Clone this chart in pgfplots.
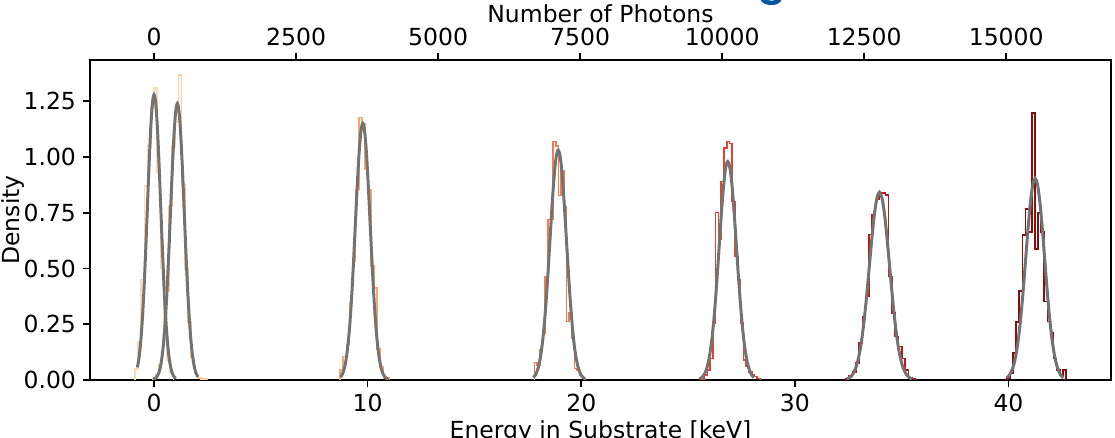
\documentclass[border=0pt]{standalone}
\usepackage{fontspec}
\setmainfont{DejaVu Sans}
\usepackage{pgfplots}
\pgfplotsset{compat=1.18}
\definecolor{hA}{HTML}{FDD8B0}
\definecolor{hB}{HTML}{FDCD9C}
\definecolor{hC}{HTML}{FCA46A}
\definecolor{hD}{HTML}{F57A50}
\definecolor{hE}{HTML}{E4432C}
\definecolor{hF}{HTML}{C41414}
\definecolor{hG}{HTML}{8B0C0C}
\definecolor{fitc}{RGB}{115,115,115}
\definecolor{logob}{RGB}{0,84,159}
\pgfplotsset{
  hist/.style={const plot mark left, no markers, line width=0.8pt},
  fit/.style={smooth, no markers, color=fitc, line width=1.5pt},
  every tick label/.append style={font=\fontsize{11.75}{14}\selectfont},
  every axis label/.append style={font=\fontsize{11.75}{14}\selectfont},
}
\begin{document}
\begin{tikzpicture}
\useasboundingbox (-45pt,-29pt) rectangle (512.5pt,190pt);
\clip (-45pt,-29pt) rectangle (512.5pt,190pt);
\draw[line width=2.2pt, color=logob, line cap=round] (336pt,191pt) to[out=-70,in=180] (341pt,188.6pt) to[out=0,in=-110] (345pt,191pt);
\begin{axis}[
  at={(0,0)}, anchor=south west,
  scale only axis, width=510.5pt, height=160pt,
  xmin=-3, xmax=44.8, ymin=0, ymax=1.435,
  xtick={0,10,20,30,40}, xticklabels={0,10,20,30,40},
  ytick={0,0.25,0.5,0.75,1,1.25},
  yticklabels={0.00,0.25,0.50,0.75,1.00,1.25},
  xtick pos=left, ytick pos=left,
  tick align=outside, major tick length=3.5pt,
  tick style={black, line width=0.8pt},
  axis line style={black, line width=0.9pt},
  xlabel={Energy in Substrate [keV]},
  ylabel={Density},
  xlabel style={yshift=2.5pt},
  ylabel style={yshift=-7.5pt},
]
% peak 1
\addplot[hist, color=hA] coordinates {(-0.90,0) (-0.90,0.05) (-0.75,0.17) (-0.60,0.45) (-0.45,0.87) (-0.30,1.05) (-0.15,1.22) (0.00,1.31) (0.15,0.93) (0.30,0.50) (0.45,0.22) (0.60,0.09) (0.75,0.03) (0.90,0.03) (0.90,0)};
\addplot[fit] coordinates {(-0.780,0.0562) (-0.702,0.1019) (-0.624,0.1732) (-0.546,0.2769) (-0.468,0.4156) (-0.390,0.5860) (-0.312,0.7763) (-0.234,0.9661) (-0.156,1.1296) (-0.078,1.2406) (0,1.28) (0.078,1.2406) (0.156,1.1296) (0.234,0.9661) (0.312,0.7763) (0.390,0.5860) (0.468,0.4156) (0.546,0.2769) (0.624,0.1732) (0.702,0.1019) (0.780,0.0562) (0.858,0.0292) (0.936,0.0142) (1.014,0.0065)};
% peak 2
\addplot[hist, color=hB] coordinates {(-0.06,0) (-0.06,0.01) (0.09,0.025) (0.24,0.07) (0.39,0.19) (0.54,0.40) (0.69,0.78) (0.84,1.05) (0.99,1.16) (1.14,1.368) (1.29,0.875) (1.44,0.50) (1.59,0.26) (1.74,0.10) (1.89,0.03) (2.04,0.01) (2.19,0.005) (2.34,0.005) (2.49,0.005) (2.49,0)};
\addplot[fit] coordinates {(-0.037,0.0027) (0.044,0.0063) (0.124,0.0138) (0.205,0.0283) (0.285,0.0544) (0.366,0.0987) (0.446,0.1678) (0.527,0.2682) (0.607,0.4026) (0.688,0.5677) (0.768,0.7521) (0.849,0.9360) (0.929,1.0943) (1.010,1.2018) (1.090,1.24) (1.171,1.2018) (1.251,1.0943) (1.332,0.9360) (1.412,0.7521) (1.493,0.5677) (1.573,0.4026) (1.654,0.2682) (1.734,0.1678) (1.815,0.0987) (1.895,0.0544) (1.976,0.0283) (2.056,0.0138)};
% peak 3
\addplot[hist, color=hC] coordinates {(8.710,0) (8.710,0.045) (8.855,0.105) (9.000,0.16) (9.145,0.346) (9.290,0.532) (9.435,0.854) (9.580,1.177) (9.725,1.15) (9.870,0.944) (10.015,0.854) (10.160,0.51) (10.305,0.413) (10.450,0.14) (10.595,0.06) (10.740,0.01) (10.885,0.01) (11.030,0.01) (11.030,0)};
\addplot[fit] coordinates {(8.729,0.0128) (8.816,0.0262) (8.903,0.0505) (8.989,0.0916) (9.076,0.1557) (9.163,0.2490) (9.250,0.3737) (9.336,0.5269) (9.423,0.6981) (9.510,0.8688) (9.597,1.0158) (9.683,1.1155) (9.770,1.151) (9.857,1.1155) (9.944,1.0158) (10.030,0.8688) (10.117,0.6981) (10.204,0.5269) (10.291,0.3737) (10.377,0.2490) (10.464,0.1557) (10.551,0.0916) (10.638,0.0505) (10.724,0.0262) (10.811,0.0128) (10.898,0.0059) (10.985,0.0025)};
% peak 4
\addplot[hist, color=hD] coordinates {(17.810,0) (17.810,0.078) (17.935,0.067) (18.060,0.135) (18.185,0.21) (18.310,0.465) (18.435,0.72) (18.560,0.72) (18.685,1.07) (18.810,1.05) (18.935,0.827) (19.060,0.937) (19.185,0.776) (19.310,0.262) (19.435,0.30) (19.560,0.187) (19.685,0.052) (19.810,0.042) (19.935,0.02) (20.060,0.007) (20.185,0.007) (20.185,0)};
\addplot[fit] coordinates {(17.759,0.0114) (17.856,0.0235) (17.953,0.0453) (18.049,0.0821) (18.146,0.1395) (18.243,0.2230) (18.340,0.3348) (18.436,0.4720) (18.533,0.6253) (18.630,0.7782) (18.727,0.9099) (18.823,0.9992) (18.920,1.031) (19.017,0.9992) (19.114,0.9099) (19.210,0.7782) (19.307,0.6253) (19.404,0.4720) (19.501,0.3348) (19.597,0.2230) (19.694,0.1395) (19.791,0.0821) (19.888,0.0453) (19.984,0.0235) (20.081,0.0114) (20.178,0.0053)};
% peak 5
\addplot[hist, color=hE] coordinates {(25.64,0) (25.64,0.005) (25.77,0.022) (25.90,0.045) (26.03,0.097) (26.16,0.255) (26.29,0.752) (26.42,0.632) (26.55,0.891) (26.68,1.04) (26.81,1.07) (26.94,1.06) (27.07,0.80) (27.20,0.554) (27.33,0.45) (27.46,0.255) (27.59,0.09) (27.72,0.06) (27.85,0.037) (27.98,0.022) (28.11,0.015) (28.24,0.007) (28.37,0.007) (28.37,0)};
\addplot[fit] coordinates {(25.537,0.0050) (25.639,0.0109) (25.741,0.0223) (25.843,0.0430) (25.944,0.0780) (26.046,0.1326) (26.148,0.2120) (26.250,0.3182) (26.351,0.4486) (26.453,0.5944) (26.555,0.7397) (26.657,0.8649) (26.758,0.9498) (26.860,0.980) (26.962,0.9498) (27.064,0.8649) (27.165,0.7397) (27.267,0.5944) (27.369,0.4486) (27.471,0.3182) (27.572,0.2120) (27.674,0.1326) (27.776,0.0780) (27.878,0.0430) (27.979,0.0223) (28.081,0.0109)};
% peak 6
\addplot[hist, color=hF] coordinates {(32.390,0) (32.390,0.007) (32.544,0.018) (32.698,0.037) (32.852,0.075) (33.006,0.165) (33.160,0.285) (33.314,0.378) (33.468,0.652) (33.622,0.741) (33.776,0.809) (33.930,0.839) (34.084,0.839) (34.238,0.83) (34.392,0.465) (34.546,0.30) (34.700,0.195) (34.854,0.15) (35.008,0.097) (35.162,0.045) (35.316,0.01) (35.470,0.007) (35.624,0.007) (35.624,0)};
\addplot[fit] coordinates {(32.420,0.0043) (32.538,0.0093) (32.657,0.0192) (32.775,0.0370) (32.894,0.0670) (33.012,0.1139) (33.131,0.1821) (33.249,0.2734) (33.368,0.3855) (33.486,0.5107) (33.605,0.6355) (33.723,0.7431) (33.842,0.8161) (33.960,0.842) (34.079,0.8161) (34.197,0.7431) (34.316,0.6355) (34.434,0.5107) (34.553,0.3855) (34.671,0.2734) (34.790,0.1821) (34.908,0.1139) (35.027,0.0670) (35.145,0.0370) (35.264,0.0192) (35.382,0.0093) (35.501,0.0043)};
% peak 7
\addplot[hist, color=hG] coordinates {(39.920,0) (39.920,0.01) (40.066,0.03) (40.212,0.12) (40.358,0.26) (40.504,0.40) (40.650,0.65) (40.796,0.767) (40.942,0.663) (41.088,1.196) (41.234,0.588) (41.380,0.749) (41.526,0.663) (41.672,0.352) (41.818,0.262) (41.964,0.21) (42.110,0.097) (42.256,0.045) (42.402,0.022) (42.548,0.045) (42.694,0.045) (42.694,0)};
\addplot[fit] coordinates {(39.927,0.0100) (40.037,0.0206) (40.148,0.0397) (40.258,0.0720) (40.368,0.1223) (40.478,0.1955) (40.589,0.2935) (40.699,0.4139) (40.809,0.5483) (40.919,0.6823) (41.030,0.7978) (41.140,0.8762) (41.250,0.904) (41.360,0.8762) (41.470,0.7978) (41.581,0.6823) (41.691,0.5483) (41.801,0.4139) (41.911,0.2935) (42.022,0.1955) (42.132,0.1223) (42.242,0.0720) (42.353,0.0397) (42.463,0.0206) (42.573,0.0100)};
\end{axis}
\begin{axis}[
  at={(0,0)}, anchor=south west,
  scale only axis, width=510.5pt, height=160pt,
  xmin=-1128, xmax=16845, ymin=0, ymax=1.435,
  axis x line*=top, axis y line=none,
  scaled x ticks=false,
  xtick={0,2500,5000,7500,10000,12500,15000},
  xticklabels={0,2500,5000,7500,10000,12500,15000},
  tick align=outside, major tick length=3.5pt,
  tick style={black, line width=0.8pt},
  axis line style={black, line width=0.9pt},
  xlabel={Number of Photons},
  xlabel style={yshift=-4pt},
]
\addplot[draw=none] coordinates {(0,0)};
\end{axis}
\end{tikzpicture}
\end{document}
